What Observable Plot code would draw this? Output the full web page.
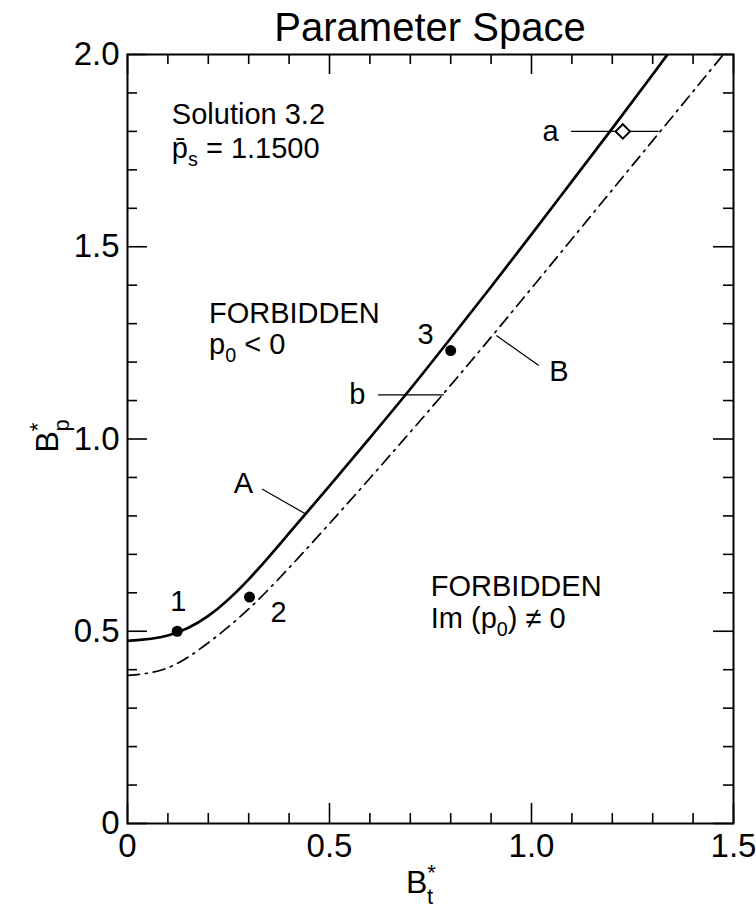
<!DOCTYPE html>
<html>
<head>
<meta charset="utf-8">
<script src="https://cdn.jsdelivr.net/npm/d3@7"></script>
<script src="https://cdn.jsdelivr.net/npm/@observablehq/plot@0.6"></script>
<style>
  html, body { margin: 0; padding: 0; background: #fff; }
  svg text { font-family: "Liberation Sans", Arial, Helvetica, sans-serif; }
</style>
</head>
<body>
<div id="chart"></div>
<script>
// Curve A: solid boundary (p0 = 0)
const btA = [0, 0.1, 0.2, 0.3, 0.4, 0.5, 0.6, 0.7, 0.8, 0.9, 1.0, 1.1, 1.2, 1.3, 1.4];
const bpA = [0.475, 0.489, 0.54, 0.635, 0.755, 0.878, 1.003, 1.13, 1.262, 1.396, 1.532, 1.67, 1.808, 1.948, 2.09];

// Curve B: dash-dot boundary (Im p0 = 0)
const btB = [0, 0.1, 0.2, 0.3, 0.4, 0.5, 0.6, 0.7, 0.8, 0.9, 1.0, 1.1, 1.2, 1.3, 1.4, 1.5];
const bpB = [0.385, 0.405, 0.47, 0.558, 0.665, 0.78, 0.898, 1.018, 1.14, 1.265, 1.392, 1.52, 1.648, 1.776, 1.904, 2.032];

// Numbered solutions
const ptLabels = ["1", "2", "3"];
const ptX = [0.123, 0.302, 0.80];
const ptY = [0.50, 0.589, 1.23];

// Solution "a" (open diamond)
const diaX = [1.226];
const diaY = [1.80];

// Axis ticks
const xMajor = [0, 0.5, 1.0, 1.5];
const xMajorText = ["0", "0.5", "1.0", "1.5"];
const yMajor = [0, 0.5, 1.0, 1.5, 2.0];
const yMajorText = ["0", "0.5", "1.0", "1.5", "2.0"];
const xMinor = d3.range(1, 15).map(i => i / 10).filter(v => !xMajor.some(m => Math.abs(m - v) < 1e-9));
const yMinor = d3.range(1, 20).map(i => i / 10).filter(v => !yMajor.some(m => Math.abs(m - v) < 1e-9));

const W = 756, H = 910;
const M = {top: 54, right: 23, bottom: 87, left: 127};
const plotW = W - M.left - M.right;
const plotH = H - M.top - M.bottom;
const majorLen = 20, minorLen = 10;

const lineA = btA.map((x, i) => ({x, y: bpA[i]}));
const lineB = btB.map((x, i) => ({x, y: bpB[i]}));
const pts = ptX.map((x, i) => ({x, y: ptY[i], label: ptLabels[i]}));
const dia = diaX.map((x, i) => ({x, y: diaY[i]}));

// Leader lines from letters to curves
const leaders = [
  {x1: 1.098, y1: 1.80, x2: 1.315, y2: 1.80},    // a
  {x1: 0.620, y1: 1.115, x2: 0.783, y2: 1.115},  // b
  {x1: 0.333, y1: 0.870, x2: 0.441, y2: 0.805},  // A
  {x1: 0.913, y1: 1.269, x2: 1.018, y2: 1.191}   // B
];
const letters = [
  {x: 1.047, y: 1.80, t: "a"},
  {x: 0.569, y: 1.115, t: "b"},
  {x: 0.287, y: 0.884, t: "A"},
  {x: 1.068, y: 1.176, t: "B"}
];
const numLabelPos = [
  {x: 0.126, y: 0.578},
  {x: 0.374, y: 0.549},
  {x: 0.738, y: 1.270}
];

const tickFont = 33;
const noteFont = 29;

const svg = Plot.plot({
  width: W,
  height: H,
  marginTop: M.top, marginRight: M.right, marginBottom: M.bottom, marginLeft: M.left,
  x: {domain: [0, 1.5], axis: null},
  y: {domain: [0, 2], axis: null},
  style: {fontFamily: '"Liberation Sans", Arial, Helvetica, sans-serif', background: "#fff"},
  marks: [
    // ticks on all four sides, pointing inward
    Plot.ruleX(xMajor, {x: d => d, insetTop: plotH - majorLen, stroke: "black", strokeWidth: 1.6}),
    Plot.ruleX(xMajor, {x: d => d, insetBottom: plotH - majorLen, stroke: "black", strokeWidth: 1.6}),
    Plot.ruleX(xMinor, {x: d => d, insetTop: plotH - minorLen, stroke: "black", strokeWidth: 1.6}),
    Plot.ruleX(xMinor, {x: d => d, insetBottom: plotH - minorLen, stroke: "black", strokeWidth: 1.6}),
    Plot.ruleY(yMajor, {y: d => d, insetRight: plotW - majorLen, stroke: "black", strokeWidth: 1.6}),
    Plot.ruleY(yMajor, {y: d => d, insetLeft: plotW - majorLen, stroke: "black", strokeWidth: 1.6}),
    Plot.ruleY(yMinor, {y: d => d, insetRight: plotW - minorLen, stroke: "black", strokeWidth: 1.6}),
    Plot.ruleY(yMinor, {y: d => d, insetLeft: plotW - minorLen, stroke: "black", strokeWidth: 1.6}),
    // tick labels
    Plot.text(xMajor, {x: d => d, text: (d, i) => xMajorText[i], frameAnchor: "bottom", dy: 33, fontSize: tickFont, fill: "black"}),
    Plot.text(yMajor, {y: d => d, text: (d, i) => yMajorText[i], frameAnchor: "left", dx: -8, textAnchor: "end", fontSize: tickFont, fill: "black"}),
    // boundary curves
    Plot.line(lineB, {x: "x", y: "y", curve: "natural", stroke: "black", strokeWidth: 1.7, strokeDasharray: "12,6,2,6", clip: true}),
    Plot.line(lineA, {x: "x", y: "y", curve: "natural", stroke: "black", strokeWidth: 2.7, clip: true}),
    // leader lines
    Plot.link(leaders, {x1: "x1", y1: "y1", x2: "x2", y2: "y2", stroke: "black", strokeWidth: 1.2}),
    // solutions
    Plot.dot(pts, {x: "x", y: "y", r: 5.5, fill: "black", stroke: "none"}),
    Plot.dot(dia, {x: "x", y: "y", symbol: "diamond2", r: 6.5, fill: "white", stroke: "black", strokeWidth: 2}),
    Plot.text(pts, {x: (d, i) => numLabelPos[i].x, y: (d, i) => numLabelPos[i].y, text: "label", fontSize: noteFont, fill: "black"}),
    Plot.text(letters, {x: "x", y: "y", text: "t", fontSize: noteFont, fill: "black"}),
    Plot.frame({stroke: "black", strokeWidth: 2})
  ]
});

const xs = svg.scale("x");
const root = d3.select(svg);
const g = root.append("g").attr("fill", "black").attr("text-anchor", "start")
  .style("font-family", '"Liberation Sans", Arial, Helvetica, sans-serif');

// Title
g.append("text").attr("x", M.left + plotW / 2).attr("y", 41)
  .attr("text-anchor", "middle").attr("font-size", 40).text("Parameter Space");

// Multi-part label helper: parts are [text, kind]
function rich(x, y, size, parts) {
  const t = g.append("text").attr("x", x).attr("y", y).attr("font-size", size).attr("text-anchor", "start");
  let shift = 0;
  for (const [s, kind] of parts) {
    const ts = t.append("tspan").text(s);
    let target = 0;
    if (kind === "sub") { target = 0.28 * size; ts.attr("font-size", size * 0.68); }
    if (target !== shift) { ts.attr("dy", target - shift); shift = target; }
  }
  return t;
}

// Inset annotations
rich(xs.apply(0.111), 124, noteFont, [["Solution 3.2"]]);
rich(xs.apply(0.111), 158, noteFont, [["p\u0304"], ["s", "sub"], [" = 1.1500"]]);
rich(xs.apply(0.203), 323, noteFont, [["FORBIDDEN"]]);
rich(xs.apply(0.203), 354, noteFont, [["p"], ["0", "sub"], [" < 0"]]);
rich(xs.apply(0.752), 596, noteFont, [["FORBIDDEN"]]);
rich(xs.apply(0.752), 628, noteFont, [["Im (p"], ["0", "sub"], [") \u2260 0"]]);

// Axis titles: B*_t and B*_p
const bt = g.append("text").attr("x", M.left + plotW / 2 - 24).attr("y", 893).attr("font-size", 32);
bt.append("tspan").text("B");
bt.append("tspan").text("*").attr("font-size", 22).attr("dy", -13);
bt.append("tspan").text("t").attr("font-size", 22).attr("dx", -9).attr("dy", 24);

const bp = g.append("text").attr("transform", `translate(58,${M.top + plotH / 2}) rotate(-90)`)
  .attr("font-size", 32);
bp.append("tspan").text("B").attr("x", -14);
bp.append("tspan").text("*").attr("font-size", 22).attr("dy", -13);
bp.append("tspan").text("p").attr("font-size", 22).attr("dx", -9).attr("dy", 24);

document.getElementById("chart").appendChild(svg);
</script>
</body>
</html>
